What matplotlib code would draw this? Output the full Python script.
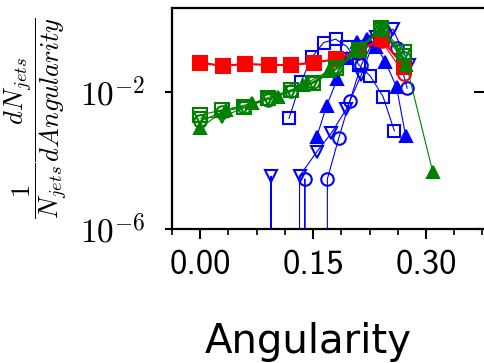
import numpy as np
import matplotlib
matplotlib.use("Agg")
import matplotlib.pyplot as plt
from matplotlib.ticker import FixedLocator, FuncFormatter, MultipleLocator, NullLocator

plt.rcParams['mathtext.fontset'] = 'cm'
plt.rcParams['font.family'] = 'DejaVu Sans'
plt.rcParams['axes.unicode_minus'] = False

# red group
red_x = [0.0, 0.030, 0.060, 0.091, 0.120, 0.151, 0.181, 0.211, 0.241, 0.271]
red_sq = [0.072, 0.057, 0.066, 0.061, 0.061, 0.072, 0.090, 0.168, 0.346, 0.055]
red_ci = [0.070, 0.058, 0.064, 0.062, 0.060, 0.070, 0.092, 0.160, 0.300, 0.034]

# green group
green_x = [0.0, 0.029, 0.058, 0.090, 0.120, 0.150, 0.181, 0.211, 0.240, 0.271]
green_sq = [0.0021, 0.0030, 0.0037, 0.0068, 0.0114, 0.0187, 0.049, 0.168, 0.72, 0.150]
green_td = [0.0017, 0.0019, 0.0034, 0.0062, 0.0100, 0.018, 0.045, 0.16, 0.68, 0.12]
green_ci = [0.0014, 0.0026, 0.0036, 0.0060, 0.0108, 0.020, 0.052, 0.17, 0.62, 0.10]
green_tu_x = [0.0, 0.034, 0.069, 0.103, 0.137, 0.171, 0.206, 0.240, 0.274, 0.309]
green_tu = [0.00091, 0.0030, 0.0047, 0.0073, 0.016, 0.041, 0.16, 0.68, 0.061, 4.7e-5]

# blue group (zeros drop to the bottom on the log axis)
blue_sq_x = [0.118, 0.134, 0.149, 0.164, 0.180, 0.195, 0.211, 0.226, 0.243, 0.258]
blue_sq = [0.0017, 0.020, 0.107, 0.275, 0.346, 0.21, 0.061, 0.029, 0.0073, 0.00073]
blue_tu_x = [0.155, 0.168, 0.182, 0.195, 0.208, 0.221, 0.234, 0.246, 0.261, 0.273]
blue_tu = [0.0005, 0.0039, 0.0235, 0.096, 0.294, 0.346, 0.21, 0.077, 0.0137, 0.00052]
blue_td_x = [0.079, 0.094, 0.110, 0.117, 0.132, 0.155, 0.174, 0.194, 0.214, 0.233, 0.256, 0.278]
blue_td = [0, 3.5e-5, 0, 0, 3.5e-5, 1.8e-4, 6.2e-4, 0.0031, 0.031, 0.41, 0.68, 0.061]
blue_ci_x = [0.124, 0.139, 0.154, 0.169, 0.184, 0.199, 0.214, 0.230, 0.245, 0.261, 0.275]
blue_ci = [0, 2.9e-5, 0, 2.9e-5, 4.4e-4, 0.0056, 0.061, 0.30, 0.50, 0.189, 0.0128]

fig = plt.figure(figsize=(4.84, 3.63), dpi=100)
ax = fig.add_axes([0.3554, 0.3691, 0.649, 0.609])
ax.set_yscale('log')

ms = 9
lw = 0.8
mew = 1.5

ax.plot(blue_sq_x, blue_sq, '-s', color='blue', lw=lw, ms=ms, mfc='none', mew=mew)
ax.plot(blue_tu_x, blue_tu, '-^', color='blue', lw=lw, ms=ms, mew=mew)
ax.plot(blue_td_x, blue_td, '-v', color='blue', lw=lw, ms=ms, mfc='none', mew=mew)
ax.plot(blue_ci_x, blue_ci, '-o', color='blue', lw=lw, ms=ms, mfc='none', mew=mew)

ax.plot(red_x, red_ci, '-o', color='red', lw=lw, ms=ms, mfc='none', mew=mew)
ax.plot(red_x, red_sq, '-s', color='red', lw=1.5, ms=ms + 1, mew=mew)

ax.plot(green_x, green_ci, '-o', color='green', lw=lw, ms=ms, mfc='none', mew=mew)
ax.plot(green_x, green_td, '-v', color='green', lw=lw, ms=ms, mfc='none', mew=mew)
ax.plot(green_tu_x, green_tu, '-^', color='green', lw=lw, ms=ms, mew=mew)
ax.plot(green_x, green_sq, '-s', color='green', lw=lw, ms=ms + 1, mfc='none', mew=mew)

ax.set_xlim(-0.0375, 0.38)
ax.set_ylim(1e-6, 10**0.45)

ax.xaxis.set_major_locator(MultipleLocator(0.15))
ax.xaxis.set_minor_locator(MultipleLocator(0.0375))
ax.xaxis.set_major_formatter(FuncFormatter(lambda v, p: '%.2f' % v))
ax.yaxis.set_major_locator(FixedLocator([1e-6, 1e-2]))
ax.yaxis.set_minor_locator(NullLocator())
ax.yaxis.set_major_formatter(FuncFormatter(lambda v, p: r'$10^{%d}$' % round(np.log10(v))))

for s in ax.spines.values():
    s.set_linewidth(1.6)
ax.tick_params(axis='x', which='major', length=7, width=1.5, labelsize=25, pad=8)
ax.tick_params(axis='x', which='minor', length=4, width=1.2)
ax.tick_params(axis='y', which='major', length=5, width=1.5, labelsize=24, pad=14)
for lab in ax.get_xticklabels():
    lab.set_family(['cmss10', 'DejaVu Sans'])

sec = ax.secondary_yaxis('right')
sec.set_yticks([1e-6, 1e-2])
sec.yaxis.set_minor_locator(NullLocator())
sec.tick_params(direction='in', length=9, width=1.5, labelright=False)

ax.set_xlabel('Angularity', fontsize=29)
ax.xaxis.set_label_coords(0.433, -0.42)
ax.set_ylabel(r'$\dfrac{1}{N_{jets}}\dfrac{dN_{jets}}{dAngularity}$', fontsize=19)
ax.yaxis.set_label_coords(-0.325, 0.5)

fig.savefig('out.png', dpi=100)
